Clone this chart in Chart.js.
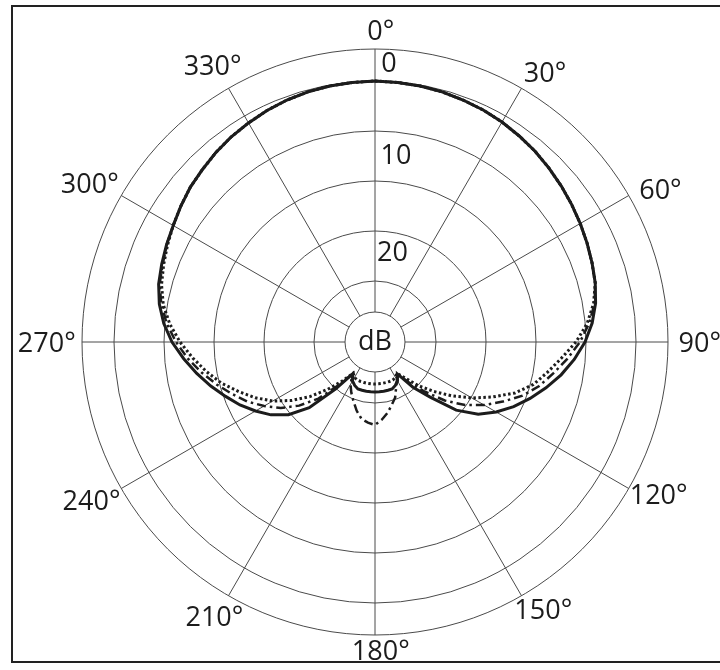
<!DOCTYPE html>
<html><head><meta charset="utf-8">
<script src="https://cdn.jsdelivr.net/npm/chart.js@4.4.1/dist/chart.umd.min.js"></script>
<style>
html,body{margin:0;padding:0;background:#fff;}
#wrap{position:relative;width:720px;height:670px;overflow:hidden;background:#fff;}
#frame{position:absolute;left:11px;top:5px;width:720px;height:658px;border-left:2px solid #222;border-top:2px solid #222;border-bottom:2px solid #222;box-sizing:border-box;pointer-events:none}
canvas{position:absolute;left:0;top:0}
</style></head><body>
<div id="wrap"><canvas id="c" width="720" height="670"></canvas><div id="frame"></div></div>
<script>
// angle categories (degrees, clockwise from on-axis)
const angles = [0,5,10,15,20,25,30,35,40,45,50,55,60,65,70,75,80,85,90,95,100,105,110,115,120,125,130,135,140,145,150,155,160,165,170,175,180,185,190,195,200,205,210,215,220,225,230,235,240,245,250,255,260,265,270,275,280,285,290,295,300,305,310,315,320,325,330,335,340,345,350,355];
// angle tick labels
const degreeLabels = ['0°','30°','60°','90°','120°','150°','180°','210°','240°','270°','300°','330°'];
const degreeLabelAngles = [0,30,60,90,120,150,180,210,240,270,300,330];
// level ring values (dB) and ring labels
const ringValues = [-23.1,-20,-15,-10,-5,0,3.2];
const ringLabelValues = [-26.1,-17.2,-7.5,1.7];
const ringLabels = ['dB','     20','      10','    0'];

// series: relative level in dB
const solid = [0,-0.05,-0.1,-0.2,-0.35,-0.5,-0.7,-0.95,-1.2,-1.5,-1.8,-2.1,-2.4,-2.7,-3.0,-3.3,-3.7,-4.3,-5.1,-6.1,-7.2,-8.4,-9.6,-10.8,-12.1,-13.5,-15.5,-18.3,-20.2,-22.2,-21.6,-21.3,-21.1,-21.1,-21.1,-21.1,-21.1,-21.1,-21.1,-21.1,-21.1,-21.3,-21.6,-22.2,-20.0,-16.8,-14.8,-13.4,-12.3,-11.2,-10.2,-9.1,-8.0,-6.9,-5.8,-4.9,-4.2,-3.7,-3.4,-3.1,-2.8,-2.4,-2.0,-1.7,-1.35,-1.05,-0.8,-0.55,-0.35,-0.2,-0.1,-0.05];
const dotted = [0,-0.05,-0.1,-0.2,-0.35,-0.5,-0.7,-0.95,-1.2,-1.5,-1.8,-2.1,-2.4,-2.7,-3.0,-3.3,-3.9,-4.8,-6.0,-7.4,-8.6,-9.7,-11.2,-13.1,-14.9,-16.7,-18.4,-19.9,-21.4,-22.3,-22.0,-21.9,-21.9,-21.9,-21.9,-21.9,-21.9,-21.9,-21.9,-21.9,-21.9,-21.9,-22.0,-22.3,-21.0,-19.4,-17.6,-15.9,-14.3,-12.9,-11.6,-10.2,-9.0,-7.8,-6.6,-5.5,-4.6,-4.0,-3.6,-3.2,-2.8,-2.4,-2.0,-1.7,-1.35,-1.05,-0.8,-0.55,-0.35,-0.2,-0.1,-0.05];
const dashDot = [0,-0.05,-0.1,-0.2,-0.35,-0.5,-0.7,-0.95,-1.2,-1.5,-1.8,-2.1,-2.4,-2.7,-3.0,-3.3,-3.8,-4.6,-5.6,-6.8,-8.0,-9.1,-10.4,-12.0,-13.5,-15.1,-17.0,-19.1,-20.8,-22.2,-21.7,-21.1,-20.2,-19.6,-18.9,-18.3,-17.8,-18.0,-18.3,-19.0,-19.8,-20.5,-21.2,-22.2,-20.5,-18.1,-16.2,-14.6,-13.3,-12.0,-10.9,-9.7,-8.5,-7.3,-6.2,-5.2,-4.4,-3.8,-3.5,-3.1,-2.8,-2.4,-2.0,-1.7,-1.35,-1.05,-0.8,-0.55,-0.35,-0.2,-0.1,-0.05];

const FONT = '"Open Sans", "DejaVu Sans", sans-serif';
const INK = '#1c1c1c';
const GRID = '#4a4a4a';

function isDegTick(a){ return degreeLabelAngles.indexOf(a) >= 0; }
const allTicks = ringValues.concat(ringLabelValues).sort((a,b)=>a-b);

// angle labels placed around the outer ring, using the radial scale's own geometry
const degreeLabelPlugin = {
  id: 'degreeLabels',
  afterDraw(chart) {
    const s = chart.scales.r;
    const ctx = chart.ctx;
    ctx.save();
    ctx.font = '27px ' + FONT;
    ctx.fillStyle = INK;
    ctx.textAlign = 'left';
    ctx.textBaseline = 'alphabetic';
    degreeLabelAngles.forEach((a, k) => {
      const idx = angles.indexOf(a);
      const th = a * Math.PI / 180;
      const sn = Math.sin(th), cs = Math.cos(th);
      const gap = 17 + 16.5 * Math.abs(sn) - 7.5 * sn + 2 * cs;
      const turn = 1.5 * Math.sin(2 * th) * Math.PI / 180;
      const p = s.getPointPosition(idx, s.drawingArea + gap, turn);
      const txt = degreeLabels[k];
      const wNum = ctx.measureText(txt.replace('°', '')).width;
      ctx.fillText(txt, p.x - wNum / 2, p.y + 10);
    });
    ctx.restore();
  }
};

const chart = new Chart(document.getElementById('c'), {
  type: 'radar',
  data: {
    labels: angles,
    datasets: [
      {data: solid, borderColor: INK, borderWidth: 3, pointRadius: 0, fill: false},
      {data: dotted, borderColor: INK, borderWidth: 3, borderDash: [2.5, 2.5], pointRadius: 0, fill: false},
      {data: dashDot, borderColor: INK, borderWidth: 2.5, borderDash: [9, 4, 2.5, 4], pointRadius: 0, fill: false}
    ]
  },
  options: {
    responsive: false,
    devicePixelRatio: 1,
    animation: false,
    layout: {padding: {left: 68.5, top: 35.5, right: 38.5, bottom: 21.5}},
    plugins: {legend: {display: false}, tooltip: {enabled: false}},
    elements: {line: {tension: 0}},
    scales: {
      r: {
        min: -26.1,
        max: 3.2,
        startAngle: 0,
        afterBuildTicks: (s) => { s.ticks = allTicks.map(v => ({value: v})); },
        ticks: {
          display: true,
          showLabelBackdrop: false,
          backdropPadding: 0,
          color: INK,
          font: {family: FONT, size: 27},
          callback: (v) => { const i = ringLabelValues.indexOf(v); return i >= 0 ? ringLabels[i] : ''; }
        },
        grid: {
          circular: true,
          color: GRID,
          lineWidth: (ctx) => ringValues.includes(ctx.tick && ctx.tick.value) ? 1 : 0
        },
        angleLines: {
          display: true,
          color: GRID,
          lineWidth: (ctx) => isDegTick(angles[ctx.index]) ? 1 : 0,
          borderDash: [0, 30, 400]
        },
        pointLabels: {display: false}
      }
    }
  },
  plugins: [degreeLabelPlugin]
});
</script>
</body></html>
